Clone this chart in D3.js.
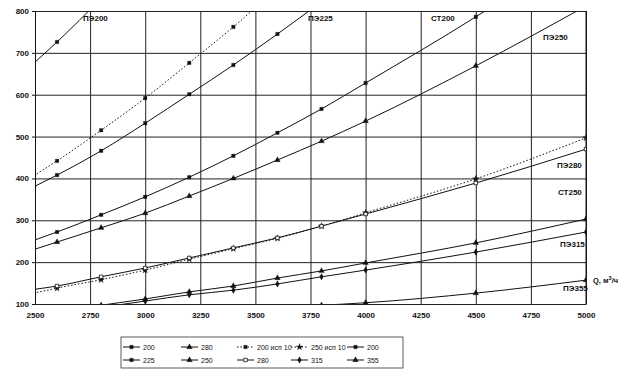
<!DOCTYPE html>
<html><head><meta charset="utf-8">
<script src="https://cdn.jsdelivr.net/npm/d3@7"></script>
<style>
body{margin:0;background:#fff}
text{font-family:"Liberation Sans",Arial,sans-serif;font-weight:bold;fill:#111}
text.lgt{font-weight:normal}
</style>
</head><body><svg id="c" width="630" height="378"></svg>
<script>
// Flow, m3/h
const q = [2400, 2600, 2800, 3000, 3200, 3400, 3600, 3800, 4000, 4500, 5000];
// Series values (null = no point)
const pe200    = [632, 726, 830, null, null, null, null, null, null, null, null];
const pe200isp = [376, 442, 515, 592, 676, 762, 855, null, null, null, null];
const pe225    = [356, 408, 466, 532, 601, 671, 745, 822, null, null, null];
const st200    = [235, 272, 313, 356, 403, 454, 509, 566, 628, 786, 960];
const pe250    = [214, 248, 282, 317, 358, 400, 444, 489, 537, 669, 812];
const pe280    = [129, 143, 165, 186, 210, 234, 258, 286, 315, 389, 470];
const st250    = [114, 138, 158, 181, 207, 232, 257, 286, 318, 399, 497];
const pe315a   = [null, 80, 97, 112, 129, 143, 162, 179, 198, 246, 303];
const pe315b   = [null, 76, 92, 107, 122, 133, 148, 165, 181, 224, 272];
const pe355    = [null, null, null, null, null, null, null, 97, 103, 126, 157];

const xTicks = [2500, 2750, 3000, 3250, 3500, 3750, 4000, 4250, 4500, 4750, 5000];
const yTicks = [100, 200, 300, 400, 500, 600, 700, 800];

const series = [
  {key:"A", legend:"200",        vals:pe200,    dash:null,  sym:"square"},
  {key:"H", legend:"280",        vals:pe315a,   dash:null,  sym:"triangle"},
  {key:"B", legend:"200 исп 10", vals:pe200isp, dash:"1.5,2", sym:"square"},
  {key:"G", legend:"250 исп 10", vals:st250,    dash:"1.5,2", sym:"star"},
  {key:"D", legend:"200",        vals:st200,    dash:null,  sym:"square"},
  {key:"C", legend:"225",        vals:pe225,    dash:null,  sym:"square"},
  {key:"E", legend:"250",        vals:pe250,    dash:null,  sym:"triangle"},
  {key:"F", legend:"280",        vals:pe280,    dash:null,  sym:"open"},
  {key:"I", legend:"315",        vals:pe315b,   dash:null,  sym:"cross"},
  {key:"J", legend:"355",        vals:pe355,    dash:null,  sym:"triangle"}
];

const curveLabels = [
  {t:"ПЭ200", x:83,  y:21},
  {t:"ПЭ225", x:308, y:21},
  {t:"СТ200", x:431, y:21},
  {t:"ПЭ250", x:543, y:40},
  {t:"ПЭ280", x:557, y:168},
  {t:"СТ250", x:558, y:195},
  {t:"ПЭ315", x:560, y:247},
  {t:"ПЭ355", x:563, y:291}
];

const svg = d3.select("#c");
const L = 35, R = 586, T = 11, B = 304;
const x = d3.scaleLinear().domain([2500, 5000]).range([L, R]);
const y = d3.scaleLinear().domain([100, 800]).range([B, T]);

svg.append("defs").append("clipPath").attr("id","clip")
  .append("rect").attr("x",L).attr("y",T).attr("width",R-L).attr("height",B-T);

// grid + axes
const gx = svg.append("g").attr("transform",`translate(0,${B})`)
  .call(d3.axisBottom(x).tickValues(xTicks).tickFormat(d3.format("d"))
    .tickSizeInner(-(B-T)).tickSizeOuter(0).tickPadding(8));
gx.select(".domain").attr("stroke","#111");
gx.selectAll(".tick line").attr("stroke","#222").attr("stroke-width",1);
gx.selectAll("text").attr("font-size","8px").attr("fill","#111");

const gy = svg.append("g").attr("transform",`translate(${L},0)`)
  .call(d3.axisLeft(y).tickValues(yTicks).tickFormat(d3.format("d"))
    .tickSizeInner(-(R-L)).tickSizeOuter(0).tickPadding(6));
gy.select(".domain").attr("stroke","#111");
gy.selectAll(".tick line").attr("stroke","#222").attr("stroke-width",1);
gy.selectAll("text").attr("font-size","8px").attr("fill","#111");
gy.selectAll(".tick").append("line").attr("x1",-3).attr("x2",0).attr("stroke","#111");
svg.append("line").attr("x1",R).attr("x2",R).attr("y1",T).attr("y2",B).attr("stroke","#111");

const plot = svg.append("g").attr("clip-path","url(#clip)");
const line = d3.line().defined(d => d.v != null).x(d => x(d.q)).y(d => y(d.v)).curve(d3.curveMonotoneX);

function symPath(sym){
  if (sym==="triangle") return d3.symbol(d3.symbolTriangle, 14)();
  if (sym==="star") return d3.symbol(d3.symbolStar, 14)();
  if (sym==="cross") return d3.symbol(d3.symbolDiamond, 12)();
  return d3.symbol(d3.symbolSquare, 12)();
}

series.forEach(s => {
  const pts = q.map((qq,i) => ({q:qq, v:s.vals[i]}));
  plot.append("path").datum(pts).attr("d", line)
    .attr("fill","none").attr("stroke","#111").attr("stroke-width",1)
    .attr("stroke-dasharray", s.dash);
  plot.selectAll(null).data(pts.filter(p => p.v != null && p.q >= 2500)).enter()
    .append("path").attr("d", symPath(s.sym))
    .attr("transform", p => `translate(${x(p.q)},${y(p.v)})`)
    .attr("fill", s.sym==="open" ? "#fff" : "#111")
    .attr("stroke","#111").attr("stroke-width", s.sym==="open" ? 0.8 : 0.3);
});

svg.selectAll(".clab").data(curveLabels).enter().append("text")
  .attr("x", d => d.x).attr("y", d => d.y).attr("font-size","8px").text(d => d.t);

const ql = svg.append("text").attr("x",593).attr("y",283).attr("font-size","7.5px");
ql.append("tspan").text("Q, м");
ql.append("tspan").attr("dy",-3).attr("font-size","5.5px").text("3");
ql.append("tspan").attr("dy",3).text("/ч");

// legend
const lg = svg.append("g");
lg.append("rect").attr("x",121).attr("y",337).attr("width",282).attr("height",31)
  .attr("fill","#fff").attr("stroke","#333").attr("stroke-width",0.8);
const colX = [123, 181, 237, 291, 347];
series.forEach((s,i) => {
  const r = Math.floor(i/5), c = i%5;
  const ly = 347 + r*13, lx = colX[c];
  lg.append("line").attr("x1",lx).attr("x2",lx+17).attr("y1",ly).attr("y2",ly)
    .attr("stroke","#111").attr("stroke-width",1).attr("stroke-dasharray", s.dash);
  lg.append("path").attr("d", symPath(s.sym)).attr("transform",`translate(${lx+8.5},${ly})`)
    .attr("fill", s.sym==="open" ? "#fff" : "#111").attr("stroke","#111").attr("stroke-width", s.sym==="open"?0.8:0.3);
  lg.append("text").attr("class","lgt").attr("x",lx+20).attr("y",ly+3).attr("font-size","7px").text(s.legend);
});
</script>
</body></html>
